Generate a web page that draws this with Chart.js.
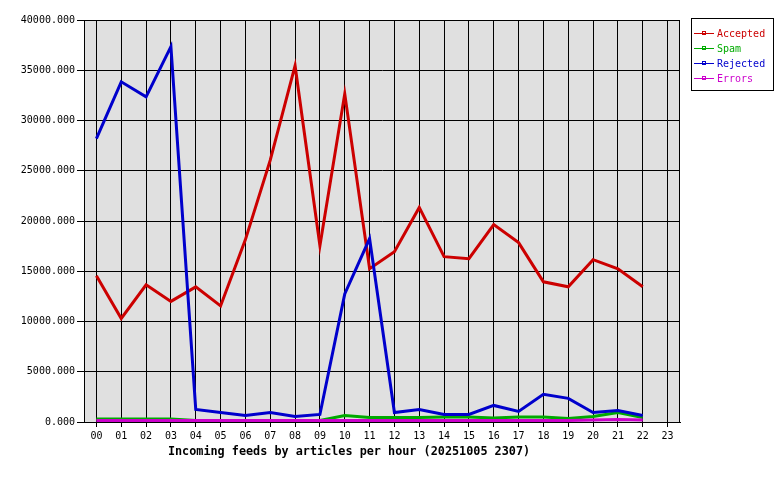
<!DOCTYPE html>
<html>
<head>
<meta charset="utf-8">
<script src="https://cdn.jsdelivr.net/npm/chart.js@4"></script>
<style>
  html, body { margin: 0; padding: 0; background: #fff; }
  #wrap { width: 780px; height: 480px; }
</style>
</head>
<body>
<div id="wrap"><canvas id="feedChart" width="780" height="480"></canvas></div>
<script>
// hours of the day
const hours = ['00','01','02','03','04','05','06','07','08','09','10','11',
               '12','13','14','15','16','17','18','19','20','21','22','23'];

// articles per hour
const accepted = [14400, 10150, 13500, 11850, 13300, 11400, 18000, 25900, 35300, 17400, 32500, 15100,
                  16800, 21200, 16300, 16100, 19500, 17700, 13800, 13300, 16000, 15100, 13300, null];
const spam     = [150, 150, 150, 150, 0, 0, 0, 0, 0, 0, 500, 300,
                  300, 300, 350, 350, 250, 350, 350, 200, 400, 800, 300, null];
const rejected = [28050, 33700, 32200, 37200, 1100, 800, 500, 800, 400, 600, 12600, 18100,
                  800, 1100, 600, 600, 1500, 900, 2600, 2200, 800, 1000, 500, null];
const errors   = [0, 0, 0, 0, 0, 0, 0, 0, 0, 0, 0, 0,
                  0, 0, 0, 0, 0, 0, 0, 0, 50, 100, 50, null];

const yTicks = [0, 5000, 10000, 15000, 20000, 25000, 30000, 35000, 40000];

const titleText = 'Incoming feeds by articles per hour (20251005 2307)';
const monoFont = '"DejaVu Sans Mono", monospace';

const seriesInfo = [
  { label: 'Accepted', data: accepted, color: '#cc0000', order: 3 },
  { label: 'Spam',     data: spam,     color: '#00aa00', order: 2 },
  { label: 'Rejected', data: rejected, color: '#0000cc', order: 1 },
  { label: 'Errors',   data: errors,   color: '#cc00cc', order: 0 }
];

// grey plot background, frame, legend box and the caption underneath
const decorations = {
  id: 'decorations',
  beforeDraw(chart) {
    const { ctx, chartArea: a } = chart;
    ctx.save();
    ctx.fillStyle = '#e0e0e0';
    ctx.fillRect(a.left, a.top, a.right - a.left, a.bottom - a.top);
    ctx.restore();
  },
  beforeDatasetsDraw(chart) {
    const { ctx, chartArea: a } = chart;
    ctx.save();
    ctx.strokeStyle = '#000';
    ctx.lineWidth = 1;
    ctx.strokeRect(Math.round(a.left) + 0.5, Math.round(a.top) + 0.5,
                   Math.round(a.right - a.left) - 1, Math.round(a.bottom - a.top));
    ctx.restore();
    // the original draws its lines sitting just above the axis
    ctx.save();
    ctx.translate(0, -1.5);
  },
  afterDatasetsDraw(chart) {
    chart.ctx.restore();
  },
  afterDraw(chart) {
    const { ctx } = chart;
    ctx.save();

    // legend
    ctx.fillStyle = '#fff';
    ctx.fillRect(691, 18, 82, 72);
    ctx.strokeStyle = '#000';
    ctx.lineWidth = 1;
    ctx.strokeRect(691.5, 18.5, 82, 72);
    ctx.font = '10px ' + monoFont;
    ctx.textBaseline = 'middle';
    ctx.textAlign = 'left';
    seriesInfo.forEach((s, i) => {
      const y = 33 + i * 15;
      ctx.strokeStyle = s.color;
      ctx.beginPath();
      ctx.moveTo(694, y + 0.5);
      ctx.lineTo(714, y + 0.5);
      ctx.stroke();
      ctx.strokeRect(702.5, y - 1.5, 3, 3);
      ctx.fillStyle = s.color;
      ctx.fillText(s.label, 717, y + 1);
    });

    // caption
    ctx.fillStyle = '#000';
    ctx.font = 'bold 11.8px ' + monoFont;
    ctx.textAlign = 'center';
    ctx.fillText(titleText, 349, 452);
    ctx.restore();
  }
};

const ctx = document.getElementById('feedChart').getContext('2d');
new Chart(ctx, {
  type: 'line',
  data: {
    labels: hours,
    datasets: seriesInfo.map(s => ({
      label: s.label,
      data: s.data,
      borderColor: s.color,
      backgroundColor: s.color,
      borderWidth: 3,
      pointRadius: 0,
      tension: 0,
      clip: false,
      order: s.order
    }))
  },
  options: {
    responsive: false,
    animation: false,
    layout: { padding: { left: 0, right: 100, top: 20, bottom: 0 } },
    plugins: {
      legend: { display: false },
      tooltip: { enabled: false }
    },
    scales: {
      x: {
        offset: true,
        grid: { color: '#000', lineWidth: 1, drawTicks: true, tickLength: 5, offset: false },
        border: { display: true, color: '#000' },
        ticks: {
          color: '#000',
          font: { family: monoFont, size: 10 },
          padding: 3,
          maxRotation: 0,
          autoSkip: false
        },
        afterFit(scale) { scale.height = 58; }
      },
      y: {
        min: 0,
        max: 40000,
        afterBuildTicks(scale) { scale.ticks = yTicks.map(v => ({ value: v })); },
        grid: { color: '#000', lineWidth: 1, tickLength: 7 },
        border: { display: true, color: '#000' },
        ticks: {
          color: '#000',
          font: { family: monoFont, size: 10 },
          padding: 2,
          callback: v => Number(v).toFixed(3)
        },
        afterFit(scale) { scale.width = 84; }
      }
    }
  },
  plugins: [decorations]
});
</script>
</body>
</html>
